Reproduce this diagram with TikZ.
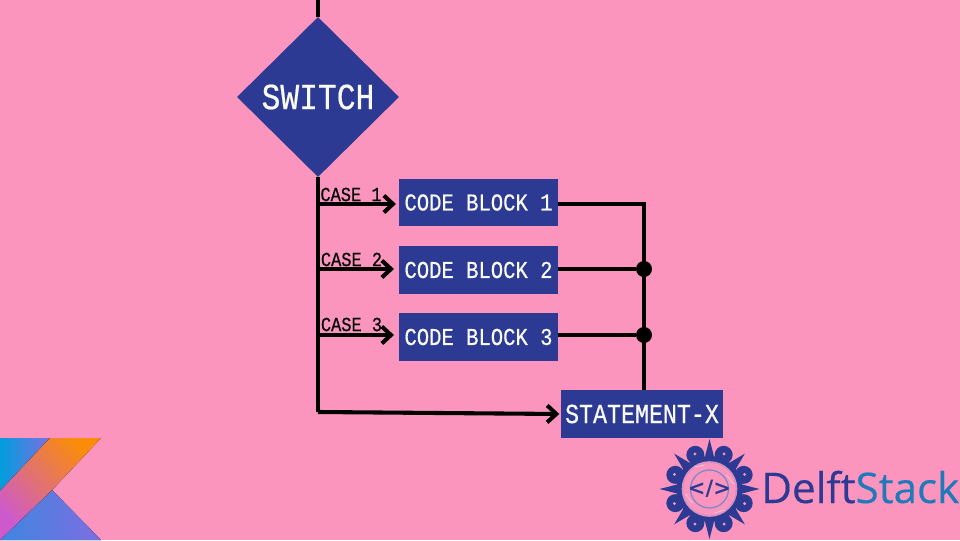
\documentclass[tikz,border=0pt]{standalone}
\usepackage{xcolor}
\usepackage{fontspec}
\newfontfamily\flowfont[FakeStretch=0.85,FakeBold=0.5]{Liberation Mono}
\newfontfamily\logofont[FakeBold=0.3]{Open Sans}
\newfontfamily\codefont{DejaVu Sans Bold}
\definecolor{flowpink}{RGB}{251,149,189}
\definecolor{flowblue}{RGB}{44,58,148}
\definecolor{flowwhite}{RGB}{250,250,245}
\definecolor{logoblue}{RGB}{44,58,148}
\definecolor{logosky}{RGB}{31,122,187}
\definecolor{logoring}{RGB}{125,135,205}
\definecolor{ktsky}{RGB}{0,158,222}
\definecolor{ktviolet}{RGB}{125,110,225}
\definecolor{ktorange}{RGB}{250,140,10}
\definecolor{ktmagenta}{RGB}{205,90,205}
\usepackage{tikz}
\usetikzlibrary{arrows.meta, positioning, shapes.geometric, calc}
\tikzset{
  blockbox/.style={fill=flowblue, text=flowwhite, inner sep=0pt, font=\flowfont\fontsize{17.2}{19}\selectfont,
                   minimum width=3.975cm, minimum height=1.18cm},
  caselabel/.style={font=\flowfont\fontsize{14.2}{16}\selectfont, text=black, inner sep=0pt},
  flowline/.style={draw=black, line width=2.9pt},
  flowarrow/.style={flowline, -{Straight Barb[length=6.5pt, width=12pt, line width=2.9pt]}},
  junction/.style={circle, fill=black, inner sep=0pt, minimum size=0.4cm}
}
\begin{document}
\begin{tikzpicture}[x=0.025cm, y=-0.025cm]
      % Page frame and background
      \useasboundingbox (0,0) rectangle (960,540);
      \fill[flowpink] (0,0) rectangle (960,540);
      % Switch diamond at top
      \node[diamond, aspect=1, fill=flowblue, text=flowwhite, inner sep=0pt, minimum width=4.05cm, minimum height=4.0cm,
            font=\flowfont\fontsize{26.2}{28}\selectfont]
            (switch) at (318,97) {SWITCH};
      \coordinate (entry) at (318,0);
      % Code blocks
      \node[blockbox] (block1) at (478.5,202.5) {CODE BLOCK 1\hspace{1pt}};
      \node[blockbox] (block2) at (478.5,270) {CODE BLOCK 2\hspace{1pt}};
      \node[blockbox] (block3) at (478.5,337) {CODE BLOCK 3\hspace{1pt}};
      \node[blockbox, minimum width=4.05cm, font=\flowfont\fontsize{19.5}{21}\selectfont]
            (stmt) at (642,414) {STATEMENT-X};
      % Points on the spine
      \coordinate (tap1) at (318,204);
      \coordinate (tap2) at (318,269);
      \coordinate (tap3) at (318,335);
      \coordinate (corner) at (318,412);
      \coordinate (end1) at (396,204);
      \coordinate (end2) at (394,269);
      \coordinate (end3) at (394,335);
      % Junctions on the right
      \node[junction] (join2) at (644,269) {};
      \node[junction] (join3) at (644,335) {};
      % Spine and case arrows
      \draw[flowline] (entry) -- (switch.north);
      \draw[flowline] (switch.south) -- (corner);
      \draw[flowarrow] (tap1) -- (end1);
      \draw[flowarrow] (tap2) -- (end2);
      \draw[flowarrow] (tap3) -- (end3);
      \draw[flowarrow, shorten >=1pt] (corner) -- (stmt.west);
      % Case labels
      \node[caselabel] (case1) at (351,194.5) {CASE 1};
      \node[caselabel] (case2) at (351.5,259.5) {CASE 2};
      \node[caselabel] (case3) at (351.5,324.5) {CASE 3};
      % Right hand collector
      \draw[flowline] (block1.east |- tap1) -| (join2.center) -- (join3.center) -- (join3 |- stmt.north);
      \draw[flowline] (block2.east |- join2) -- (join2);
      \draw[flowline] (block3.east |- join3) -- (join3);
      % Corner logo, bottom left
      \fill[left color=ktsky, middle color=ktsky, right color=ktviolet] (0,438) -- (50,438) -- (0,491) -- cycle;
      \fill[left color=ktsky!50!ktviolet, middle color=ktviolet, right color=ktviolet] (52,490) -- (101,540) -- (0,540) -- cycle;
      \fill[bottom color=ktmagenta, middle color=ktorange, top color=ktorange, shading angle=-45]
            (50,438) -- (101,438) -- (52,490) -- (0,540) -- (0,491) -- cycle;
      % Round logo, bottom right
      \begin{scope}[shift={(709.5,489)}]
        \foreach \ang in {0,45,...,315} {
          \fill[logoblue] (\ang:50) -- (\ang+13:27) -- (\ang-13:27) -- cycle;
          \fill[logoblue] (\ang+22.5:37) circle (9);
          \fill[logoblue] (\ang+22.5:44) -- (\ang+10:34) -- (\ang+35:34) -- cycle;
        }
        \foreach \ang in {22.5,67.5,...,350} {
          \fill[flowpink] (\ang:38) circle (1.6);
        }
        \fill[logoblue] (0,0) circle (33);
        \draw[flowpink!70!logoring, line width=1.2pt, fill=flowpink] (0,0) circle (27);
        \draw[logoring, line width=0.9pt] (0,0) circle (19);
        \draw[flowpink!50!white, line width=0.5pt] (-15,-22) -- (-5,-24) (5,24) -- (15,21) (-24,5) -- (-17,14) (17,-14) -- (24,-5);
        \node[inner sep=0pt, text=logoblue] (code) at (0,0)
              {\codefont\fontsize{15}{17}\selectfont </>};
      \end{scope}
      \node[anchor=base west, inner sep=0pt, font=\logofont\fontsize{30}{34}\selectfont] (brand) at (761,503)
            {\textcolor{logoblue}{Delft}\textcolor{logosky}{Stack}};
    \end{tikzpicture}
\end{document}
